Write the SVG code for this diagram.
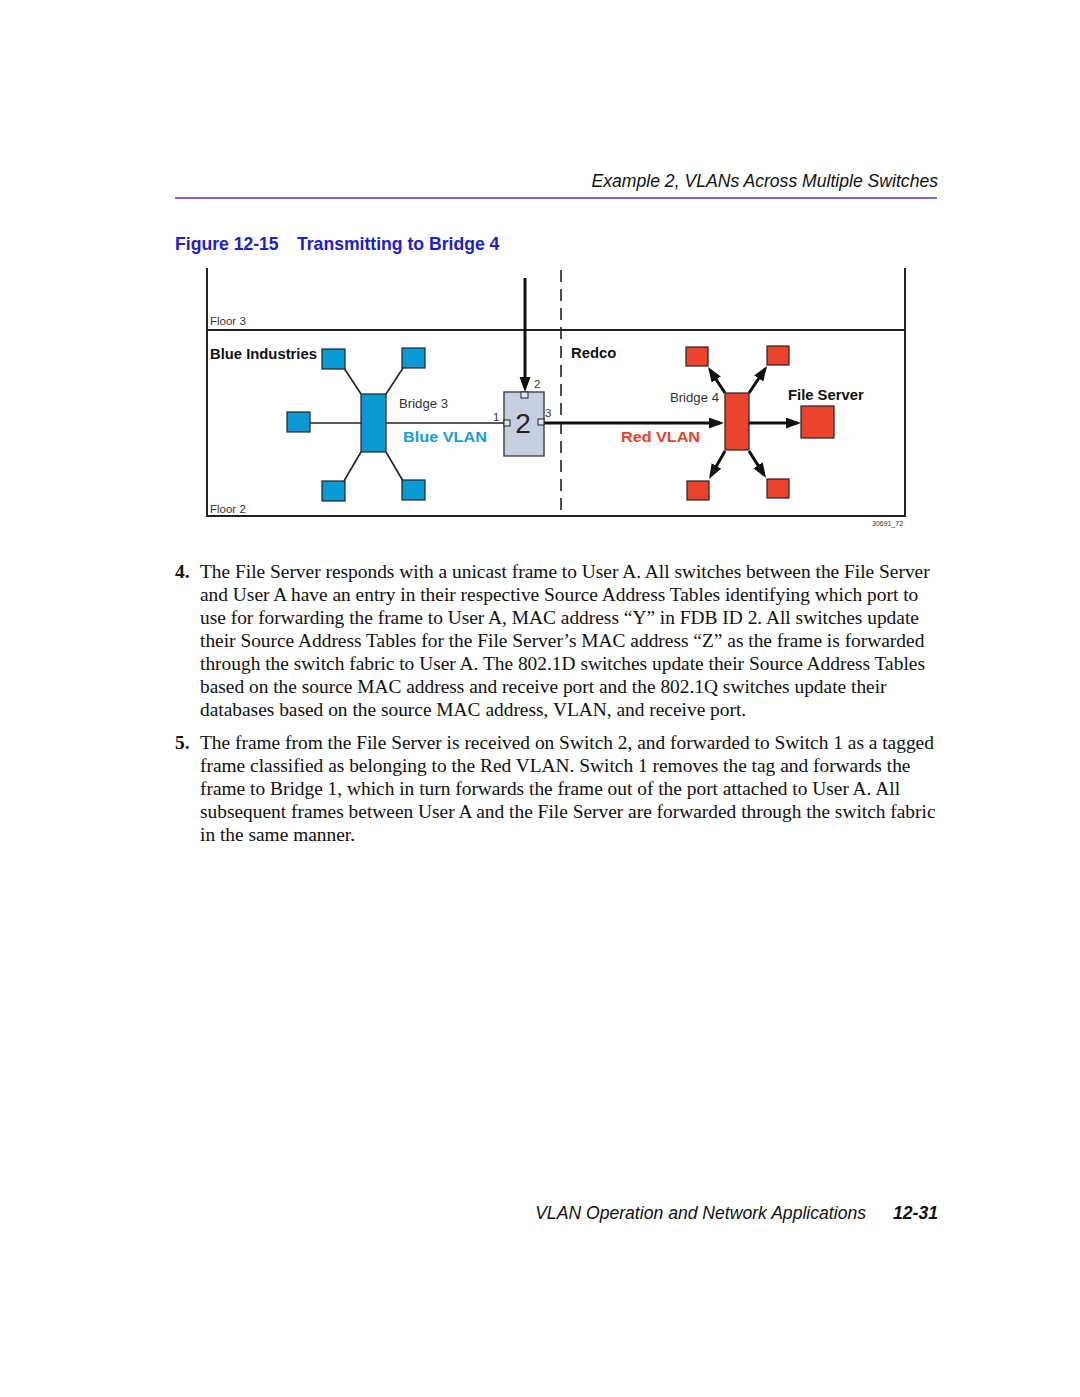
<svg xmlns="http://www.w3.org/2000/svg" width="1080" height="1397" viewBox="0 0 1080 1397">
<style>
.hdr{font-family:"Liberation Sans",Arial,sans-serif;font-style:italic;font-size:17.6px;fill:#111}
.ftitle{font-family:"Liberation Sans",Arial,sans-serif;font-weight:bold;font-size:17.6px;fill:#2020c8}
.body{font-family:"Liberation Serif","Times New Roman",serif;font-size:19.4px;fill:#111}
.num{font-family:"Liberation Serif","Times New Roman",serif;font-size:19.4px;font-weight:bold;fill:#111}
.lbl{font-family:"Liberation Sans",Arial,sans-serif;font-size:13.2px;fill:#333}
.small{font-family:"Liberation Sans",Arial,sans-serif;font-size:11.5px;fill:#333}
.bold{font-family:"Liberation Sans",Arial,sans-serif;font-size:14.8px;font-weight:bold;fill:#111}
.vlan{font-family:"Liberation Sans",Arial,sans-serif;font-size:14px;font-weight:bold}
.blue{fill:#0c9ad6;stroke:#222;stroke-width:1.2}
.red{fill:#ec432d;stroke:#222;stroke-width:1.2}
.thin{stroke:#222;stroke-width:1.6;fill:none}
.thick{stroke:#111;stroke-width:3;fill:none}
.frame{stroke:#222;stroke-width:2;fill:none}
.port{fill:#dfe4ef;stroke:#222;stroke-width:1}
</style>
<defs>
<marker id="ah" markerUnits="userSpaceOnUse" markerWidth="16" markerHeight="12" refX="11" refY="5.5" orient="auto">
<path d="M0,0 L15,5.5 L0,11 z" fill="#111"/>
</marker>
</defs>
<rect width="1080" height="1397" fill="#fff"/>

<text class="hdr" x="938" y="187" text-anchor="end">Example 2, VLANs Across Multiple Switches</text>
<line x1="175" y1="198" x2="937" y2="198" stroke="#3a3ad0" stroke-width="1.3"/>
<text class="ftitle" x="175" y="250">Figure 12-15</text>
<text class="ftitle" x="297" y="250">Transmitting to Bridge 4</text>

<g id="frame">
<line class="frame" x1="207" y1="268" x2="207" y2="517"/>
<line class="frame" x1="905" y1="268" x2="905" y2="517"/>
<line class="frame" x1="206" y1="330" x2="906" y2="330"/>
<line class="frame" x1="206" y1="516" x2="906" y2="516"/>
<line x1="561" y1="270" x2="561" y2="514" stroke="#222" stroke-width="1.6" stroke-dasharray="12,7"/>
<text class="small" x="210" y="325">Floor 3</text>
<text class="small" x="210" y="513">Floor 2</text>
<text class="bold" x="210" y="359">Blue Industries</text>
<text class="bold" x="571" y="358">Redco</text>
<text x="872" y="526" font-family="Liberation Sans,Arial,sans-serif" font-size="7" fill="#333">30691_72</text>
</g>

<g id="connectors">
<line class="thin" x1="344" y1="368" x2="361" y2="394"/>
<line class="thin" x1="403" y1="368" x2="386" y2="394"/>
<line class="thin" x1="344" y1="481" x2="361" y2="452"/>
<line class="thin" x1="403" y1="481" x2="386" y2="452"/>
<line class="thin" x1="310" y1="423" x2="361" y2="423"/>
<line class="thin" x1="386" y1="423" x2="504" y2="423"/>
<line class="thick" x1="525" y1="278" x2="525" y2="388" marker-end="url(#ah)"/>
<line class="thick" x1="544" y1="423" x2="720" y2="423" marker-end="url(#ah)"/>
<line class="thick" x1="749" y1="423" x2="797" y2="423" marker-end="url(#ah)"/>
<line class="thick" x1="725" y1="393" x2="710.2" y2="370.4" marker-end="url(#ah)"/>
<line class="thick" x1="749" y1="393" x2="764.8" y2="369.3" marker-end="url(#ah)"/>
<line class="thick" x1="725" y1="451" x2="711" y2="475.5" marker-end="url(#ah)"/>
<line class="thick" x1="749" y1="451" x2="763.9" y2="474.6" marker-end="url(#ah)"/>
</g>

<g id="blue-users">
<rect class="blue" x="322" y="349" width="23" height="20"/>
<rect class="blue" x="402" y="348" width="23" height="20"/>
<rect class="blue" x="287" y="412" width="23" height="20"/>
<rect class="blue" x="322" y="481" width="23" height="20"/>
<rect class="blue" x="402" y="480" width="23" height="20"/>
</g>
<g id="bridge3">
<rect class="blue" x="361" y="394" width="25" height="58"/>
<text class="lbl" x="399" y="408">Bridge 3</text>
<text class="vlan" x="403" y="442" fill="#1a9ad6" textLength="84" lengthAdjust="spacingAndGlyphs">Blue VLAN</text>
</g>

<g id="switch2">
<rect x="504" y="392" width="40" height="64" fill="#c6cee2" stroke="#333" stroke-width="1.3"/>
<rect class="port" x="521" y="392" width="7" height="6"/>
<rect class="port" x="504" y="420" width="6" height="6"/>
<rect class="port" x="538" y="419" width="6" height="6"/>
<text x="523" y="433" text-anchor="middle" font-family="Liberation Sans,Arial,sans-serif" font-size="28" fill="#222">2</text>
<text class="small" x="493" y="421" font-size="11">1</text>
<text class="small" x="534" y="388" font-size="11">2</text>
<text class="small" x="545" y="417" font-size="11">3</text>
</g>

<g id="bridge4">
<rect class="red" x="725" y="393" width="24" height="57"/>
<text class="lbl" x="719" y="402" text-anchor="end">Bridge 4</text>
<text class="vlan" x="621" y="442" fill="#e8432e" textLength="79" lengthAdjust="spacingAndGlyphs">Red VLAN</text>
</g>
<g id="red-users">
<rect class="red" x="686" y="347" width="22" height="19"/>
<rect class="red" x="767" y="346" width="22" height="19"/>
<rect class="red" x="687" y="481" width="22" height="19"/>
<rect class="red" x="767" y="479" width="22" height="19"/>
</g>
<g id="file-server">
<rect class="red" x="801" y="406" width="33" height="32"/>
<text class="bold" x="788" y="400">File Server</text>
</g>

<g id="text">
<text class="num" x="175" y="578">4.</text>
<text class="body" x="200" y="578">The File Server responds with a unicast frame to User A. All switches between the File Server</text>
<text class="body" x="200" y="601">and User A have an entry in their respective Source Address Tables identifying which port to</text>
<text class="body" x="200" y="624">use for forwarding the frame to User A, MAC address “Y” in FDB ID 2. All switches update</text>
<text class="body" x="200" y="647">their Source Address Tables for the File Server’s MAC address “Z” as the frame is forwarded</text>
<text class="body" x="200" y="670">through the switch fabric to User A. The 802.1D switches update their Source Address Tables</text>
<text class="body" x="200" y="693">based on the source MAC address and receive port and the 802.1Q switches update their</text>
<text class="body" x="200" y="716">databases based on the source MAC address, VLAN, and receive port.</text>
<text class="num" x="175" y="749">5.</text>
<text class="body" x="200" y="749">The frame from the File Server is received on Switch 2, and forwarded to Switch 1 as a tagged</text>
<text class="body" x="200" y="772">frame classified as belonging to the Red VLAN. Switch 1 removes the tag and forwards the</text>
<text class="body" x="200" y="795">frame to Bridge 1, which in turn forwards the frame out of the port attached to User A. All</text>
<text class="body" x="200" y="818">subsequent frames between User A and the File Server are forwarded through the switch fabric</text>
<text class="body" x="200" y="841">in the same manner.</text>
</g>

<text class="hdr" x="866" y="1219" text-anchor="end">VLAN Operation and Network Applications</text>
<text class="hdr" x="938" y="1219" text-anchor="end" font-weight="bold">12-31</text>
</svg>
